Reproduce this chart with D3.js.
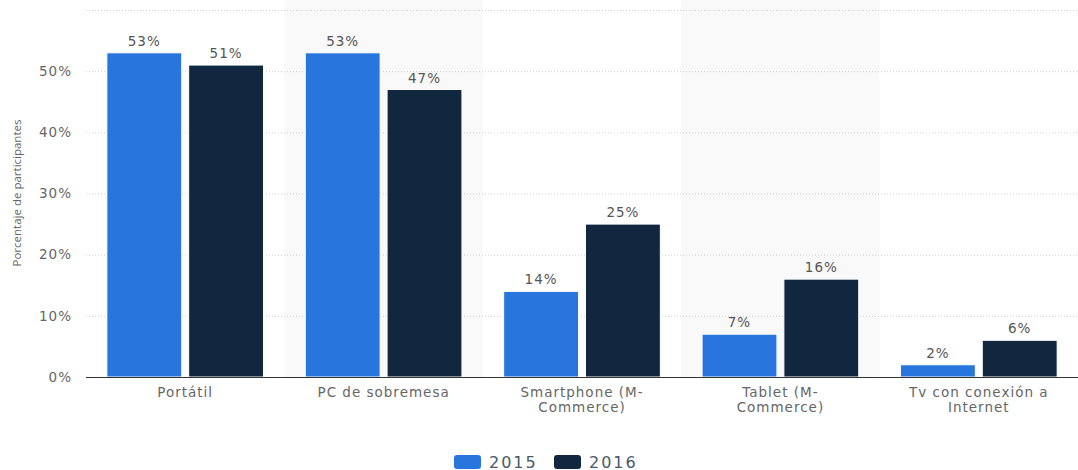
<!DOCTYPE html>
<html><head><meta charset="utf-8">
<script src="https://cdn.jsdelivr.net/npm/d3@7"></script>
<style>body{margin:0;background:#fff;font-family:"DejaVu Sans",Verdana,sans-serif}</style>
</head><body><svg id="c" width="1078" height="470"></svg>
<script>
const categories = ["Portátil", "PC de sobremesa", "Smartphone (M-Commerce)", "Tablet (M-Commerce)", "Tv con conexión a Internet"];
const categoryLines = [["Portátil"], ["PC de sobremesa"], ["Smartphone (M-", "Commerce)"], ["Tablet (M-", "Commerce)"], ["Tv con conexión a", "Internet"]];
const seriesNames = ["2015", "2016"];
const values2015 = [53, 53, 14, 7, 2];
const values2016 = [51, 47, 25, 16, 6];
const yTicks = [0, 10, 20, 30, 40, 50, 60];
const colors = ["#2876dd", "#10273f"];

const svg = d3.select("#c");
const m = {left: 86, right: 1078, top: 10, bottom: 377};
const x = d3.scaleBand().domain(categories).range([m.left, m.right]);
const xs = d3.scaleBand().domain(seriesNames).range([0, x.bandwidth()]).paddingInner(0.085).paddingOuter(0.255);
const y = d3.scaleLinear().domain([0, 60]).range([m.bottom, m.top]);

// alternate band shading
svg.append("g").selectAll("rect").data(categories.filter((d,i)=>i%2===1)).join("rect")
  .attr("x", d=>x(d)).attr("y", 0).attr("width", x.bandwidth()).attr("height", m.bottom)
  .attr("fill", "#f9f9f9");

// gridlines
const yAxis = d3.axisLeft(y).tickValues(yTicks).tickFormat(d=>d+"%").tickSize(0).tickPadding(14);
svg.append("g").selectAll("line").data(yTicks.filter(d=>d>0)).join("line")
  .attr("x1", m.left).attr("x2", m.right).attr("y1", d=>y(d)+0.5).attr("y2", d=>y(d)+0.5)
  .attr("stroke", "#cfcfcf").attr("stroke-dasharray", "1,2");

const ga = svg.append("g").attr("transform", `translate(${m.left},0)`).call(yAxis);
ga.select(".domain").remove();
ga.selectAll("text").attr("fill", "#666").style("font-size", "13.5px").style("letter-spacing", "1px")
  .style("font-family", "DejaVu Sans, Verdana, sans-serif")
  .text(function(d){ return d===60 ? "" : d+"%"; });

// bars
const data = categories.map((c,i)=>({c, vals:[{s:"2015", v:values2015[i]}, {s:"2016", v:values2016[i]}]}));
const g = svg.append("g").selectAll("g").data(data).join("g").attr("transform", d=>`translate(${x(d.c)},0)`);
g.selectAll("rect").data(d=>d.vals).join("rect")
  .attr("x", d=>xs(d.s)).attr("width", xs.bandwidth())
  .attr("y", d=>y(d.v)).attr("height", d=>y(0)-y(d.v))
  .attr("fill", (d,i)=>colors[i]).attr("stroke", "#fff").attr("stroke-width", 1);
g.selectAll("text").data(d=>d.vals).join("text")
  .attr("x", d=>xs(d.s)+xs.bandwidth()/2).attr("y", d=>y(d.v)-7)
  .attr("text-anchor", "middle").attr("fill", "#555").style("font-size", "13.5px").style("letter-spacing", "1px")
  .text(d=>d.v+"%");

// baseline
svg.append("line").attr("x1", m.left).attr("x2", m.right).attr("y1", y(0)+0.5).attr("y2", y(0)+0.5)
  .attr("stroke", "#333").attr("stroke-width", 1);

// x labels
const xl = svg.append("g").selectAll("text").data(categories).join("text")
  .attr("x", d=>x(d)+x.bandwidth()/2).attr("y", 397)
  .attr("text-anchor", "middle").attr("fill", "#666").style("font-size", "13.5px").style("letter-spacing", "1px");
xl.each(function(d,i){
  const t = d3.select(this);
  categoryLines[i].forEach((ln,j)=>t.append("tspan").attr("x", x(d)+x.bandwidth()/2).attr("dy", j===0?0:15).text(ln));
});

// y title
svg.append("text").attr("transform", "translate(21,193) rotate(-90)").attr("text-anchor", "middle")
  .attr("fill", "#666").style("font-size", "11.5px").style("font-family", "Open Sans, sans-serif")
  .text("Porcentaje de participantes");

// legend
const lg = svg.append("g").selectAll("g").data(seriesNames).join("g")
  .attr("transform", (d,i)=>`translate(${454+i*100},455)`);
lg.append("rect").attr("width", 27).attr("height", 14).attr("rx", 3).attr("fill", (d,i)=>colors[i]);
lg.append("text").attr("x", 35).attr("y", 12.5).attr("fill", "#4a5868").style("font-size", "16px").style("letter-spacing", "2px").text(d=>d);
</script></body></html>
